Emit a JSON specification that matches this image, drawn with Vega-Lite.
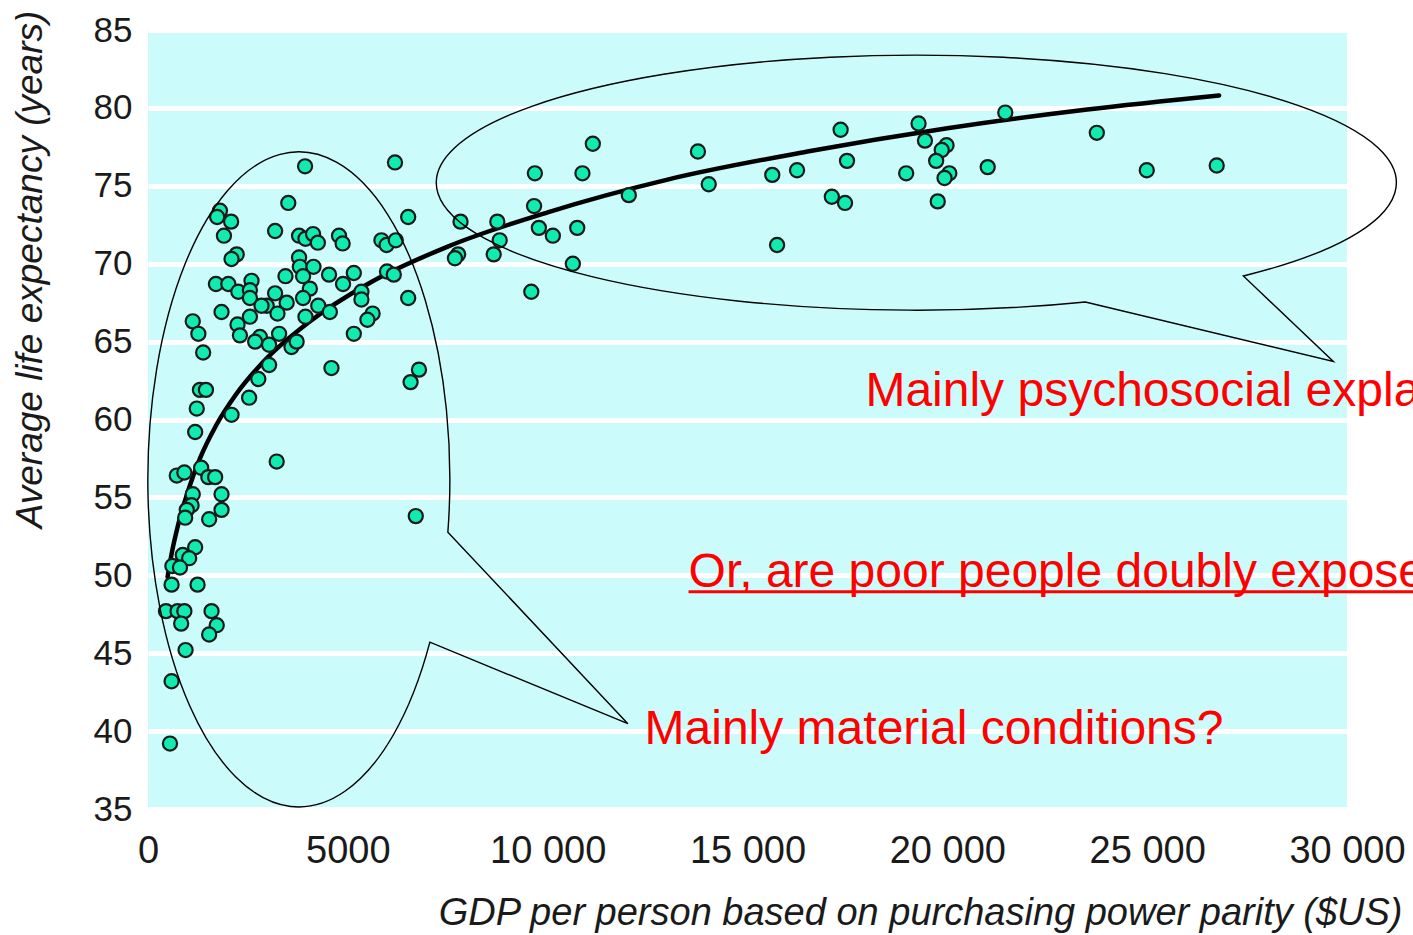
{
  "$schema": "https://vega.github.io/schema/vega-lite/v6.json",
  "width": 1199,
  "height": 779,
  "autosize": {"type": "none"},
  "padding": {"left": 148, "top": 30, "right": 66, "bottom": 126},
  "background": "white",
  "config": {
    "view": {"fill": "#ccfbfb", "stroke": null},
    "font": "Liberation Sans"
  },
  "datasets": {
    "countries": [
      {"gdp": 3510, "life": 73.9}, {"gdp": 1800, "life": 73.4}, {"gdp": 1730, "life": 73.0}, {"gdp": 2080, "life": 72.7},
      {"gdp": 1900, "life": 71.8}, {"gdp": 3180, "life": 72.1}, {"gdp": 3780, "life": 71.8}, {"gdp": 3940, "life": 71.6},
      {"gdp": 4130, "life": 71.9}, {"gdp": 4250, "life": 71.35}, {"gdp": 2220, "life": 70.6}, {"gdp": 2090, "life": 70.3},
      {"gdp": 3780, "life": 70.4}, {"gdp": 3800, "life": 69.8}, {"gdp": 4140, "life": 69.8}, {"gdp": 3880, "life": 69.2},
      {"gdp": 3440, "life": 69.2}, {"gdp": 1700, "life": 68.7}, {"gdp": 2010, "life": 68.7}, {"gdp": 2590, "life": 68.9},
      {"gdp": 2260, "life": 68.2}, {"gdp": 2550, "life": 68.3}, {"gdp": 2550, "life": 67.8}, {"gdp": 4050, "life": 68.4},
      {"gdp": 3180, "life": 68.1}, {"gdp": 3880, "life": 67.8}, {"gdp": 3470, "life": 67.5}, {"gdp": 2970, "life": 67.3},
      {"gdp": 2840, "life": 67.3}, {"gdp": 3240, "life": 66.8}, {"gdp": 4260, "life": 67.3}, {"gdp": 1840, "life": 66.9},
      {"gdp": 1120, "life": 66.3}, {"gdp": 1260, "life": 65.5}, {"gdp": 2550, "life": 66.6}, {"gdp": 2240, "life": 66.1},
      {"gdp": 3940, "life": 66.6}, {"gdp": 2300, "life": 65.4}, {"gdp": 2800, "life": 65.3}, {"gdp": 2680, "life": 65.0},
      {"gdp": 3280, "life": 65.5}, {"gdp": 3030, "life": 64.8}, {"gdp": 3590, "life": 64.65}, {"gdp": 3720, "life": 65.0},
      {"gdp": 1380, "life": 64.3}, {"gdp": 3030, "life": 63.5}, {"gdp": 2760, "life": 62.6},
      {"gdp": 1300, "life": 61.9}, {"gdp": 1450, "life": 61.9}, {"gdp": 1220, "life": 60.7}, {"gdp": 2530, "life": 61.4},
      {"gdp": 2090, "life": 60.3}, {"gdp": 1180, "life": 59.2}, {"gdp": 3220, "life": 57.3}, {"gdp": 720, "life": 56.4},
      {"gdp": 910, "life": 56.6}, {"gdp": 1330, "life": 56.9}, {"gdp": 1510, "life": 56.3}, {"gdp": 1680, "life": 56.3},
      {"gdp": 1120, "life": 55.2}, {"gdp": 1840, "life": 55.2}, {"gdp": 1090, "life": 54.5}, {"gdp": 970, "life": 54.2},
      {"gdp": 930, "life": 53.7}, {"gdp": 1840, "life": 54.2}, {"gdp": 1530, "life": 53.6}, {"gdp": 1180, "life": 51.8},
      {"gdp": 870, "life": 51.3}, {"gdp": 1030, "life": 51.1}, {"gdp": 610, "life": 50.6}, {"gdp": 800, "life": 50.5},
      {"gdp": 590, "life": 49.4}, {"gdp": 1240, "life": 49.4}, {"gdp": 450, "life": 47.7}, {"gdp": 740, "life": 47.7},
      {"gdp": 910, "life": 47.7}, {"gdp": 1590, "life": 47.7}, {"gdp": 830, "life": 46.9}, {"gdp": 1720, "life": 46.8},
      {"gdp": 1530, "life": 46.2}, {"gdp": 940, "life": 45.2}, {"gdp": 590, "life": 43.2}, {"gdp": 550, "life": 39.2},
      {"gdp": 3930, "life": 76.25}, {"gdp": 6180, "life": 76.5}, {"gdp": 6510, "life": 73.0}, {"gdp": 4780, "life": 71.8},
      {"gdp": 4870, "life": 71.3}, {"gdp": 5840, "life": 71.5}, {"gdp": 5970, "life": 71.2}, {"gdp": 6200, "life": 71.5},
      {"gdp": 4530, "life": 69.3}, {"gdp": 5150, "life": 69.4}, {"gdp": 4880, "life": 68.7}, {"gdp": 5980, "life": 69.5},
      {"gdp": 6150, "life": 69.3}, {"gdp": 4550, "life": 66.9}, {"gdp": 5340, "life": 68.2}, {"gdp": 5340, "life": 67.7},
      {"gdp": 6510, "life": 67.8}, {"gdp": 5620, "life": 66.8}, {"gdp": 5490, "life": 66.4}, {"gdp": 5150, "life": 65.5},
      {"gdp": 4590, "life": 63.3}, {"gdp": 6780, "life": 63.2}, {"gdp": 6570, "life": 62.4}, {"gdp": 6700, "life": 53.8},
      {"gdp": 11130, "life": 77.7}, {"gdp": 9680, "life": 75.8}, {"gdp": 10870, "life": 75.8}, {"gdp": 12030, "life": 74.4},
      {"gdp": 9660, "life": 73.7}, {"gdp": 7820, "life": 72.7}, {"gdp": 8740, "life": 72.7}, {"gdp": 9780, "life": 72.3},
      {"gdp": 10130, "life": 71.8}, {"gdp": 10740, "life": 72.3}, {"gdp": 8800, "life": 71.5}, {"gdp": 7760, "life": 70.6},
      {"gdp": 7680, "life": 70.35}, {"gdp": 8650, "life": 70.6}, {"gdp": 10630, "life": 70.0}, {"gdp": 9590, "life": 68.2},
      {"gdp": 13760, "life": 77.2}, {"gdp": 14030, "life": 75.1}, {"gdp": 15620, "life": 75.7}, {"gdp": 16240, "life": 76.0},
      {"gdp": 15740, "life": 71.2}, {"gdp": 17330, "life": 78.6}, {"gdp": 17490, "life": 76.6}, {"gdp": 17110, "life": 74.3},
      {"gdp": 17440, "life": 73.9}, {"gdp": 19280, "life": 79.0}, {"gdp": 19440, "life": 77.9}, {"gdp": 19980, "life": 77.6},
      {"gdp": 19860, "life": 77.3}, {"gdp": 19720, "life": 76.6}, {"gdp": 18970, "life": 75.8}, {"gdp": 20050, "life": 75.8},
      {"gdp": 19930, "life": 75.5}, {"gdp": 19760, "life": 74.0},
      {"gdp": 21450, "life": 79.7}, {"gdp": 23740, "life": 78.4}, {"gdp": 21010, "life": 76.2}, {"gdp": 24990, "life": 76.0},
      {"gdp": 26740, "life": 76.3}
    ],
    "trend": [
      {"gdp": 490, "life": 49.9}, {"gdp": 600, "life": 51.5}, {"gdp": 750, "life": 53.2}, {"gdp": 1000, "life": 55.4},
      {"gdp": 1300, "life": 57.5}, {"gdp": 1700, "life": 59.6}, {"gdp": 2200, "life": 61.6}, {"gdp": 3000, "life": 64.0},
      {"gdp": 4000, "life": 66.2}, {"gdp": 5500, "life": 68.7}, {"gdp": 7500, "life": 71.1}, {"gdp": 10000, "life": 73.3},
      {"gdp": 13000, "life": 75.4}, {"gdp": 16500, "life": 77.2}, {"gdp": 20000, "life": 78.7}, {"gdp": 23500, "life": 79.9},
      {"gdp": 26800, "life": 80.8}
    ]
  },
  "layer": [
    {
      "data": {"name": "trend"},
      "mark": {"type": "line", "color": "black", "strokeWidth": 4.5, "interpolate": "monotone", "strokeCap": "round"},
      "encoding": {
        "x": {
          "field": "gdp", "type": "quantitative",
          "title": "GDP per person based on purchasing power parity ($US)",
          "scale": {"domain": [0, 30000], "nice": false, "zero": false},
          "axis": {
            "values": [0, 5000, 10000, 15000, 20000, 25000, 30000],
            "grid": false, "domain": false, "ticks": false,
            "labelFontSize": 38, "labelColor": "#1a1a1a", "labelPadding": 23,
            "labelFlush": false, "labelOverlap": false, "labelBound": false,
            "labelExpr": "datum.value >= 10000 ? replace(format(datum.value, ','), ',', ' ') : format(datum.value, 'd')",
            "titleFontSize": 38, "titleFontStyle": "italic", "titleFontWeight": "normal", "titleColor": "#1a1a1a",
            "titleAlign": "right", "titleAnchor": null, "titleX": 1254, "titleY": 115, "titleBaseline": "alphabetic"
          }
        },
        "y": {
          "field": "life", "type": "quantitative",
          "title": "Average life expectancy (years)",
          "scale": {"domain": [35, 85], "nice": false, "zero": false},
          "axis": {
            "values": [35, 40, 45, 50, 55, 60, 65, 70, 75, 80, 85],
            "grid": true, "gridColor": "white", "gridWidth": 5, "gridOpacity": 1,
            "domain": false, "ticks": false,
            "labelFontSize": 35, "labelColor": "#1a1a1a", "labelPadding": 16,
            "labelFlush": false, "labelOverlap": false, "labelBound": false,
            "titleFontSize": 37, "titleFontStyle": "italic", "titleFontWeight": "normal", "titleColor": "#1a1a1a",
            "titleAngle": -90, "titleX": -118, "titleY": 239, "titleAlign": "center", "titleBaseline": "middle", "titleAnchor": null
          }
        }
      }
    },
    {
      "data": {"name": "countries"},
      "mark": {"type": "point", "shape": "circle", "filled": true, "fill": "#10ecb0", "stroke": "#1a1a1a", "strokeWidth": 2.2, "size": 200, "opacity": 1},
      "encoding": {
        "x": {"field": "gdp", "type": "quantitative", "title": "GDP per person based on purchasing power parity ($US)"},
        "y": {"field": "life", "type": "quantitative", "title": "Average life expectancy (years)"}
      }
    },
    {
      "data": {"values": [{}]},
      "mark": {"type": "point", "shape": "M 0.342 0.238 A 0.96 0.255 0 1 1 0.658 0.186 L 0.838 0.357 Z", "size": 1000000, "filled": false, "stroke": "black", "strokeWidth": 1.4, "opacity": 1},
      "encoding": {
        "x": {"datum": 19175, "type": "quantitative", "title": "GDP per person based on purchasing power parity ($US)"},
        "y": {"datum": 75.18, "type": "quantitative", "title": "Average life expectancy (years)"}
      }
    },
    {
      "data": {"values": [{}]},
      "mark": {"type": "point", "shape": "M 0.262 0.326 A 0.302 0.655 0 1 1 0.298 0.106 L 0.658 0.489 Z", "size": 1000000, "filled": false, "stroke": "black", "strokeWidth": 1.4, "opacity": 1},
      "encoding": {
        "x": {"datum": 3775, "type": "quantitative", "title": "GDP per person based on purchasing power parity ($US)"},
        "y": {"datum": 56.17, "type": "quantitative", "title": "Average life expectancy (years)"}
      }
    },
    {
      "data": {"values": [{}]},
      "mark": {"type": "text", "text": "Mainly psychosocial explanations?", "fontSize": 48, "color": "#ff0000", "align": "left", "baseline": "alphabetic", "font": "Liberation Sans"},
      "encoding": {
        "x": {"datum": 17950, "type": "quantitative", "title": "GDP per person based on purchasing power parity ($US)"},
        "y": {"datum": 60.84, "type": "quantitative", "title": "Average life expectancy (years)"}
      }
    },
    {
      "data": {"values": [{}]},
      "mark": {"type": "text", "text": "Or, are poor people doubly exposed?", "fontSize": 48, "color": "#ff0000", "align": "left", "baseline": "alphabetic", "font": "Liberation Sans"},
      "encoding": {
        "x": {"datum": 13525, "type": "quantitative", "title": "GDP per person based on purchasing power parity ($US)"},
        "y": {"datum": 49.26, "type": "quantitative", "title": "Average life expectancy (years)"}
      }
    },
    {
      "data": {"values": [{}]},
      "mark": {"type": "rule", "color": "#ff0000", "strokeWidth": 3},
      "encoding": {
        "x": {"datum": 13525, "type": "quantitative", "title": "GDP per person based on purchasing power parity ($US)"},
        "x2": {"datum": 32000},
        "y": {"datum": 48.94, "type": "quantitative", "title": "Average life expectancy (years)"}
      }
    },
    {
      "data": {"values": [{}]},
      "mark": {"type": "text", "text": "Mainly material conditions?", "fontSize": 48, "color": "#ff0000", "align": "left", "baseline": "alphabetic", "font": "Liberation Sans"},
      "encoding": {
        "x": {"datum": 12425, "type": "quantitative", "title": "GDP per person based on purchasing power parity ($US)"},
        "y": {"datum": 39.16, "type": "quantitative", "title": "Average life expectancy (years)"}
      }
    }
  ]
}
